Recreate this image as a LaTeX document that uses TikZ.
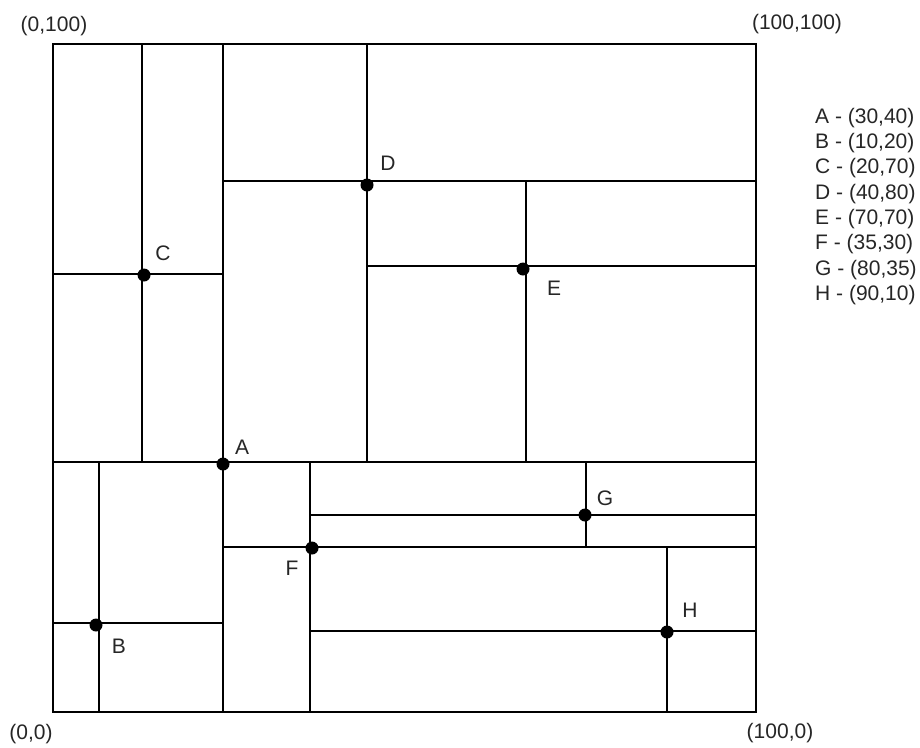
\documentclass[tikz,border=0pt]{standalone}
\usepackage{fontspec}
\setmainfont{Liberation Sans}
\begin{document}
\begin{tikzpicture}[x=1pt,y=-1pt,
  wall/.style={line width=2.4pt,line cap=rect},
  pt/.style={circle,fill=black,inner sep=0pt,minimum size=13pt},
  lbl/.style={font=\fontsize{21}{25}\selectfont,inner sep=0pt,text=black!85},
  coord/.style={font=\fontsize{21}{25}\selectfont,inner sep=0pt,text=black!85}]
\useasboundingbox[fill=white] (0,0) rectangle (920,747);
% outer square
\draw[wall] (53,44) rectangle (756,712);
% top region
\draw[wall] (142,44) -- (142,462);
\draw[wall] (223,44) -- (223,712);
\draw[wall] (53,462) -- (756,462);
\draw[wall] (53,274) -- (223,274);
\draw[wall] (367,44) -- (367,462);
\draw[wall] (223,181) -- (756,181);
\draw[wall] (367,266) -- (756,266);
\draw[wall] (526,181) -- (526,462);
% bottom region
\draw[wall] (99,462) -- (99,712);
\draw[wall] (53,623) -- (223,623);
\draw[wall] (310,462) -- (310,712);
\draw[wall] (223,547) -- (756,547);
\draw[wall] (310,515) -- (756,515);
\draw[wall] (586,462) -- (586,547);
\draw[wall] (667,547) -- (667,712);
\draw[wall] (310,631) -- (756,631);
% points
\node[pt] (pA) at (223,464) {};
\node[pt] (pB) at (96,625) {};
\node[pt] (pC) at (144,275) {};
\node[pt] (pD) at (367,185) {};
\node[pt] (pE) at (523,269) {};
\node[pt] (pF) at (312,548) {};
\node[pt] (pG) at (585,515) {};
\node[pt] (pH) at (667,632) {};
% point labels
\node[lbl] (lA) at (242,447) {A};
\node[lbl] (lB) at (119,646) {B};
\node[lbl] (lC) at (163,253) {C};
\node[lbl] (lD) at (388,163) {D};
\node[lbl] (lE) at (554,288) {E};
\node[lbl] (lF) at (292,568) {F};
\node[lbl] (lG) at (605,498) {G};
\node[lbl] (lH) at (690,610) {H};
% corner coordinates
\node[coord] (c1) at (54,26) {(0,100)};
\node[coord] (c2) at (797,24) {(100,100)};
\node[coord] (c3) at (31,734) {(0,0)};
\node[coord] (c4) at (780,733) {(100,0)};
% legend
\node[font=\fontsize{21}{25.3}\selectfont,inner sep=0pt,text=black!85,align=left,anchor=west] (legend) at (815,206.5)
  {A - (30,40)\\B - (10,20)\\C - (20,70)\\D - (40,80)\\E - (70,70)\\F - (35,30)\\G - (80,35)\\H - (90,10)};
\end{tikzpicture}
\end{document}
